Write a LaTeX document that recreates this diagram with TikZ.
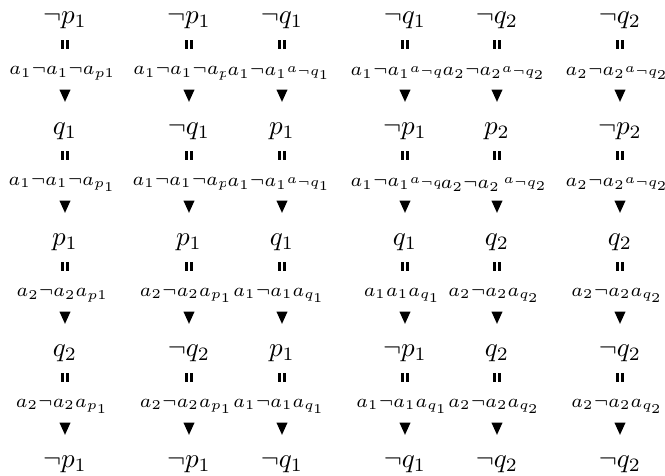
\documentclass[tikz,border=0pt]{standalone}
\begin{document}
\begin{tikzpicture}[x=0.37pt,y=-0.37pt,
  mn/.style={inner sep=1pt, text height=1.2ex, text depth=.4ex},
  lab/.style={fill=white, inner sep=0.5pt}]
\useasboundingbox (0,0) rectangle (665,476);
\newcommand\sa[2]{\raise#1\hbox{$\scriptscriptstyle a_{#2}$}}
\newcommand\myedge[3]{%
  \path (#1.center) -- (#2.center) coordinate[pos=.23] (#1bar)
     coordinate[pos=.49] (#1lab) coordinate[pos=.69] (#1tri);
  \fill ([xshift=-1.4pt,yshift=1.6pt]#1bar) rectangle ++(0.85pt,-3.2pt);
  \fill ([xshift=0.55pt,yshift=1.6pt]#1bar) rectangle ++(0.85pt,-3.2pt);
  \node[lab] (#1L) at ([xshift=-1pt]#1lab) {$\scriptstyle #3$};
  \fill ([xshift=-2.05pt,yshift=2.2pt]#1tri) -- ++(4.1pt,0) -- ++(-2.05pt,-4.5pt) -- cycle;
}
% row 1
\node[mn] (n11) at (65,19)  {$\neg p_1$};
\node[mn] (n12) at (189,19) {$\neg p_1$};
\node[mn] (n13) at (282,19) {$\neg q_1$};
\node[mn] (n14) at (405,19) {$\neg q_1$};
\node[mn] (n15) at (497,19) {$\neg q_2$};
\node[mn] (n16) at (620,19) {$\neg q_2$};
% row 2
\node[mn] (n21) at (65,130)  {$q_1$};
\node[mn] (n22) at (189,130) {$\neg q_1$};
\node[mn] (n23) at (282,130) {$p_1$};
\node[mn] (n24) at (405,130) {$\neg p_1$};
\node[mn] (n25) at (497,130) {$p_2$};
\node[mn] (n26) at (620,130) {$\neg p_2$};
% row 3
\node[mn] (n31) at (65,241)  {$p_1$};
\node[mn] (n32) at (189,241) {$p_1$};
\node[mn] (n33) at (282,241) {$q_1$};
\node[mn] (n34) at (405,241) {$q_1$};
\node[mn] (n35) at (497,241) {$q_2$};
\node[mn] (n36) at (620,241) {$q_2$};
% row 4
\node[mn] (n41) at (65,352)  {$q_2$};
\node[mn] (n42) at (189,352) {$\neg q_2$};
\node[mn] (n43) at (282,352) {$p_1$};
\node[mn] (n44) at (405,352) {$\neg p_1$};
\node[mn] (n45) at (497,352) {$q_2$};
\node[mn] (n46) at (620,352) {$\neg q_2$};
% row 5
\node[mn] (n51) at (65,463)  {$\neg p_1$};
\node[mn] (n52) at (189,463) {$\neg p_1$};
\node[mn] (n53) at (282,463) {$\neg q_1$};
\node[mn] (n54) at (405,463) {$\neg q_1$};
\node[mn] (n55) at (497,463) {$\neg q_2$};
\node[mn] (n56) at (620,463) {$\neg q_2$};
% edges row 1
\myedge{n11}{n21}{a_1\neg a_1\neg a_{p1}}
\myedge{n12}{n22}{a_1\neg a_1\neg a_{p1}}
\myedge{n13}{n23}{a_1\neg a_1\sa{1pt}{\neg q_1}}
\myedge{n14}{n24}{a_1\neg a_1\sa{1pt}{\neg q_1}}
\myedge{n15}{n25}{a_2\neg a_2\sa{1pt}{\neg q_2}}
\myedge{n16}{n26}{a_2\neg a_2\sa{1pt}{\neg q_2}}
% edges row 2
\myedge{n21}{n31}{a_1\neg a_1\neg a_{p_1}}
\myedge{n22}{n32}{a_1\neg a_1\neg a_{p_1}}
\myedge{n23}{n33}{a_1\neg a_1\sa{1pt}{\neg q_1}}
\myedge{n24}{n34}{a_1\neg a_1\sa{1pt}{\neg q_1}}
\myedge{n25}{n35}{a_2\neg a_2\,\sa{1.8pt}{\neg q_2}}
\myedge{n26}{n36}{a_2\neg a_2\sa{1pt}{\neg q_2}}
% edges row 3
\myedge{n31}{n41}{a_2\neg a_2a_{p1}}
\myedge{n32}{n42}{a_2\neg a_2a_{p_1}}
\myedge{n33}{n43}{a_1\neg a_1a_{q_1}}
\myedge{n34}{n44}{a_1a_1a_{q_1}}
\myedge{n35}{n45}{a_2\neg a_2a_{q_2}}
\myedge{n36}{n46}{a_2\neg a_2a_{q_2}}
% edges row 4
\myedge{n41}{n51}{a_2\neg a_2a_{p_1}}
\myedge{n42}{n52}{a_2\neg a_2a_{p_1}}
\myedge{n43}{n53}{a_1\neg a_1a_{q_1}}
\myedge{n44}{n54}{a_1\neg a_1a_{q_1}}
\myedge{n45}{n55}{a_2\neg a_2a_{q_2}}
\myedge{n46}{n56}{a_2\neg a_2a_{q_2}}
\end{tikzpicture}
\end{document}
